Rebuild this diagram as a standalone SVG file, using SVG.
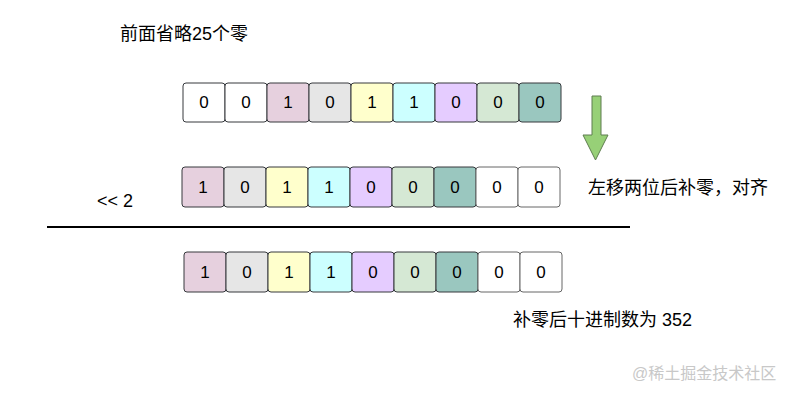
<svg xmlns="http://www.w3.org/2000/svg" width="793" height="401" viewBox="0 0 793 401">
<style>
.t{font-family:"Liberation Sans","Noto Sans CJK SC",sans-serif;font-size:18px;fill:#000}
.d{font-family:"Liberation Sans",sans-serif;font-size:17px;fill:#000;text-anchor:middle}
.b{stroke:#36393d;stroke-width:1}
.w{fill:#ffffff}.p{fill:#e6d0de}.g{fill:#e6e6e6}.y{fill:#ffffcc}.c{fill:#ccffff}.v{fill:#e5ccff}.l{fill:#d5e8d4}.k{fill:#9ac7bf}
.wm{font-family:"Liberation Sans","Noto Sans CJK SC",sans-serif;font-size:16px;fill:#c8c8c8}
</style>
<rect width="793" height="401" fill="#ffffff"/>
<text class="t" x="120" y="40">前面省略25个零</text>
<g id="row1">
<rect class="b w" x="183" y="83" width="42" height="39" rx="3"/><text class="d" x="204" y="108">0</text>
<rect class="b w" x="225" y="83" width="42" height="39" rx="3"/><text class="d" x="246" y="108">0</text>
<rect class="b p" x="267" y="83" width="42" height="39" rx="3"/><text class="d" x="288" y="108">1</text>
<rect class="b g" x="309" y="83" width="42" height="39" rx="3"/><text class="d" x="330" y="108">0</text>
<rect class="b y" x="351" y="83" width="42" height="39" rx="3"/><text class="d" x="372" y="108">1</text>
<rect class="b c" x="393" y="83" width="42" height="39" rx="3"/><text class="d" x="414" y="108">1</text>
<rect class="b v" x="435" y="83" width="42" height="39" rx="3"/><text class="d" x="456" y="108">0</text>
<rect class="b l" x="477" y="83" width="42" height="39" rx="3"/><text class="d" x="498" y="108">0</text>
<rect class="b k" x="519" y="83" width="42" height="39" rx="3"/><text class="d" x="540" y="108">0</text>
</g>
<g id="arrow">
<polygon points="592,96 601,96 601,135 608,135 595.5,160 583,135 592,135" fill="#97d077" stroke="#5f7d50" stroke-width="1"/>
</g>
<g id="row2">
<rect class="b p" x="182" y="167" width="42" height="40" rx="3"/><text class="d" x="203" y="193">1</text>
<rect class="b g" x="224" y="167" width="42" height="40" rx="3"/><text class="d" x="245" y="193">0</text>
<rect class="b y" x="266" y="167" width="42" height="40" rx="3"/><text class="d" x="287" y="193">1</text>
<rect class="b c" x="308" y="167" width="42" height="40" rx="3"/><text class="d" x="329" y="193">1</text>
<rect class="b v" x="350" y="167" width="42" height="40" rx="3"/><text class="d" x="371" y="193">0</text>
<rect class="b l" x="392" y="167" width="42" height="40" rx="3"/><text class="d" x="413" y="193">0</text>
<rect class="b k" x="434" y="167" width="42" height="40" rx="3"/><text class="d" x="455" y="193">0</text>
<rect class="w" x="476" y="167" width="42" height="40" rx="3" stroke="#666666"/><text class="d" x="497" y="193">0</text>
<rect class="w" x="518" y="167" width="42" height="40" rx="3" stroke="#666666"/><text class="d" x="539" y="193">0</text>
</g>
<text class="t" x="588" y="194">左移两位后补零，对齐</text>
<text class="t" x="97" y="207">&lt;&lt; 2</text>
<g id="connectors">
<line x1="47" y1="227" x2="630" y2="227" stroke="#000" stroke-width="2"/>
</g>
<g id="row3">
<rect class="b p" x="184" y="252" width="42" height="40" rx="3"/><text class="d" x="205" y="278">1</text>
<rect class="b g" x="226" y="252" width="42" height="40" rx="3"/><text class="d" x="247" y="278">0</text>
<rect class="b y" x="268" y="252" width="42" height="40" rx="3"/><text class="d" x="289" y="278">1</text>
<rect class="b c" x="310" y="252" width="42" height="40" rx="3"/><text class="d" x="331" y="278">1</text>
<rect class="b v" x="352" y="252" width="42" height="40" rx="3"/><text class="d" x="373" y="278">0</text>
<rect class="b l" x="394" y="252" width="42" height="40" rx="3"/><text class="d" x="415" y="278">0</text>
<rect class="b k" x="436" y="252" width="42" height="40" rx="3"/><text class="d" x="457" y="278">0</text>
<rect class="w" x="478" y="252" width="42" height="40" rx="3" stroke="#666666"/><text class="d" x="499" y="278">0</text>
<rect class="w" x="520" y="252" width="42" height="40" rx="3" stroke="#666666"/><text class="d" x="541" y="278">0</text>
</g>
<text class="t" x="513" y="326">补零后十进制数为 352</text>
<text class="wm" x="632" y="379">@稀土掘金技术社区</text>
</svg>
